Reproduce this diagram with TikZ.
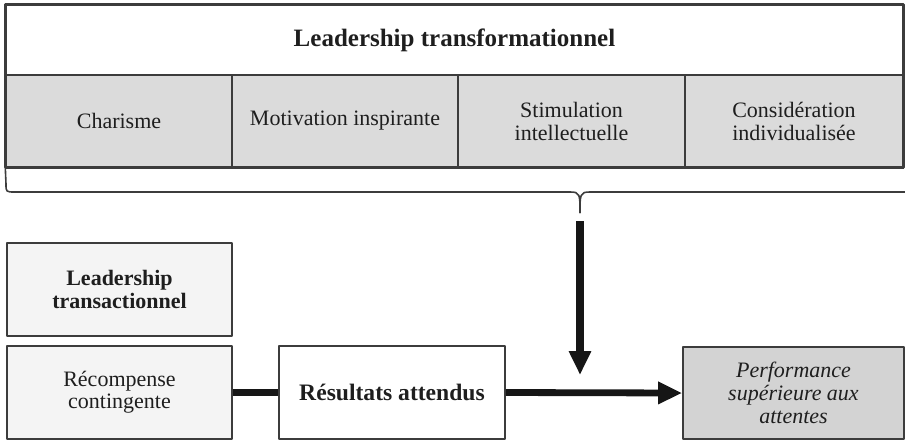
\documentclass[tikz,border=0pt]{standalone}
\usepackage{fontspec}
\setmainfont{Liberation Serif}
\usepackage{xcolor}
\usetikzlibrary{arrows.meta}
\definecolor{figureink}{HTML}{1E1E1E}
\definecolor{cadreink}{HTML}{3C3C3C}
\definecolor{cellfill}{HTML}{DBDBDB}
\definecolor{transfill}{HTML}{F4F4F4}
\definecolor{perffill}{HTML}{D3D3D3}
\definecolor{flecheink}{HTML}{161616}

\begin{document}
\begin{tikzpicture}[
  x=0.5pt,
  y=-0.5pt,
  text=figureink,
  line join=round,
  cellule/.style={
    rectangle,
    draw=cadreink,
    fill=cellfill,
    line width=0.7pt,
    minimum height=46pt,
    inner sep=0pt,
    align=center,
    font=\fontsize{11}{11.5}\selectfont
  },
  boite/.style={
    rectangle,
    draw=cadreink,
    line width=0.8pt,
    minimum width=112.5pt,
    minimum height=46.5pt,
    inner sep=0pt,
    align=center,
    font=\fontsize{11}{11.2}\selectfont
  },
  fleche/.style={
    -{Triangle[length=12pt,width=10.5pt]},
    draw=flecheink,
    line width=4pt
  },
  accolade/.style={
    draw=cadreink,
    line width=0.8pt
  }
]
\useasboundingbox (0,0) rectangle (905,440);

% ------------------------------------------------------------
% Leadership transformationnel: title and its four dimensions
% ------------------------------------------------------------

\node[
  rectangle,draw=cadreink,line width=0.8pt,
  minimum width=448.5pt,minimum height=35pt,
  font=\fontsize{12.5}{14}\selectfont\bfseries
] (titre) at (454.5,40)
  {Leadership transformationnel};

\foreach \nom/\cx/\lg/\txt in {charisme/119/113/Charisme,
  motivation/345/113/Motivation inspirante,
  stimulation/571.5/113.5/Stimulation\\intellectuelle,
  consideration/794/109/Considération\\individualisée}{
  \node[cellule,minimum width=\lg pt] (\nom) at (\cx,121) {\txt};
}

\draw[draw=cadreink,line width=1.4pt]
  (titre.north west) rectangle (consideration.south east);
\draw[draw=cadreink,line width=1.7pt]
  (charisme.south west) -- (consideration.south east);

% brace gathering the four dimensions
\draw[accolade]
  (charisme.south west) -- (6,184)
  .. controls (6,192) .. (15,192)
  -- (570,192)
  .. controls (580,192) and (580,194) .. (580,213);
\draw[accolade]
  (905,192) -- (590,192)
  .. controls (580,192) and (580,194) .. (580,213);

\coordinate (depart) at (580,221);
\coordinate (arrivee) at (580,375);
\draw[fleche] (depart) -- (arrivee);

% ------------------------------------------------------------
% Leadership transactionnel and outcomes
% ------------------------------------------------------------

\node[boite,fill=transfill,font=\fontsize{11}{11.2}\selectfont\bfseries]
  (transac) at (119.5,289.5)
  {Leadership\\transactionnel};

\node[boite,fill=transfill] (recompense) at (119.5,392.5)
  {Récompense\\contingente};

\node[boite,fill=white,minimum width=113pt,
  font=\fontsize{11.8}{13}\selectfont\bfseries]
  (resultats) at (392,392.5)
  {Résultats attendus};

\node[boite,fill=perffill,minimum width=110.5pt,minimum height=46pt,
  font=\fontsize{11}{11.6}\selectfont\itshape]
  (performance) at (793.5,393)
  {Performance\\supérieure aux\\attentes};

\draw[draw=flecheink,line width=3.4pt]
  (recompense.east) -- (resultats.west);
\draw[fleche,line width=3.4pt]
  (resultats.east) -- (performance.west);
\end{tikzpicture}
\end{document}
